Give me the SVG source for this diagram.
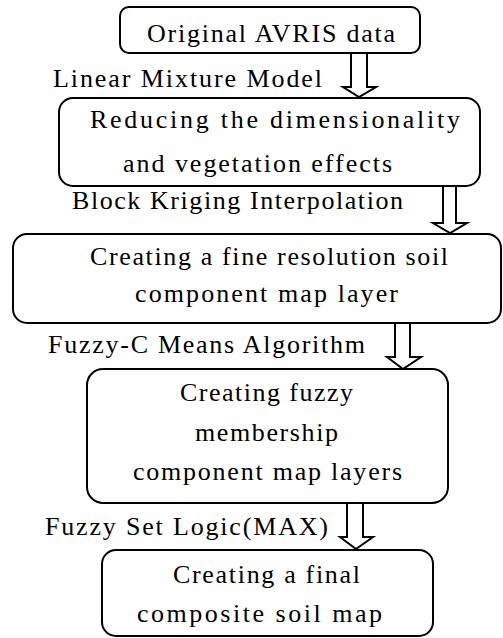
<svg xmlns="http://www.w3.org/2000/svg" width="503" height="638" viewBox="0 0 503 638">
<style>
.box{fill:#fff;stroke:#000;stroke-width:2}
.arr{fill:#fff;stroke:#000;stroke-width:2;stroke-linejoin:miter}
text{font-family:"Liberation Serif","Times New Roman",serif;font-size:26px;fill:#000}
</style>
<rect width="503" height="638" fill="#fff"/>
<g id="connectors">
<path class="arr" d="M351,53 V87 H343 L359,97 L376,87 H367 V53"/>
<path class="arr" d="M443,187 V223 H433 L450,233 L467,223 H456 V187"/>
<path class="arr" d="M395,323 V357 H387 L403,369 L421,357 H410 V323"/>
<path class="arr" d="M347,504 V537 H340 L356,549 L373,537 H363 V504"/>
<text x="53" y="87" textLength="269" lengthAdjust="spacing">Linear Mixture Model</text>
<text x="72" y="209" textLength="331" lengthAdjust="spacing">Block Kriging Interpolation</text>
<text x="48" y="353" textLength="317" lengthAdjust="spacing">Fuzzy-C Means Algorithm</text>
<text x="45" y="535" textLength="283" lengthAdjust="spacing">Fuzzy Set Logic(MAX)</text>
</g>
<g id="n1">
<rect class="box" x="120" y="7" width="300" height="46" rx="9"/>
<text x="147" y="42" textLength="248" lengthAdjust="spacing">Original AVRIS data</text>
</g>
<g id="n2">
<rect class="box" x="59" y="98" width="421" height="88" rx="14"/>
<text x="90" y="128" textLength="370" lengthAdjust="spacing">Reducing the dimensionality</text>
<text x="123" y="172" textLength="269" lengthAdjust="spacing">and vegetation effects</text>
</g>
<g id="n3">
<rect class="box" x="13" y="234" width="488" height="89" rx="14"/>
<text x="90" y="265" textLength="358" lengthAdjust="spacing">Creating a fine resolution soil</text>
<text x="135" y="302" textLength="263" lengthAdjust="spacing">component map layer</text>
</g>
<g id="n4">
<rect class="box" x="87" y="369" width="361" height="134" rx="16"/>
<text x="180" y="401" textLength="173" lengthAdjust="spacing">Creating fuzzy</text>
<text x="195" y="441" textLength="143" lengthAdjust="spacing">membership</text>
<text x="133" y="480" textLength="269" lengthAdjust="spacing">component map layers</text>
</g>
<g id="n5">
<rect class="box" x="102" y="550" width="331" height="86" rx="14"/>
<text x="173" y="583" textLength="187" lengthAdjust="spacing">Creating a final</text>
<text x="137" y="622" textLength="245" lengthAdjust="spacing">composite soil map</text>
</g>
</svg>
